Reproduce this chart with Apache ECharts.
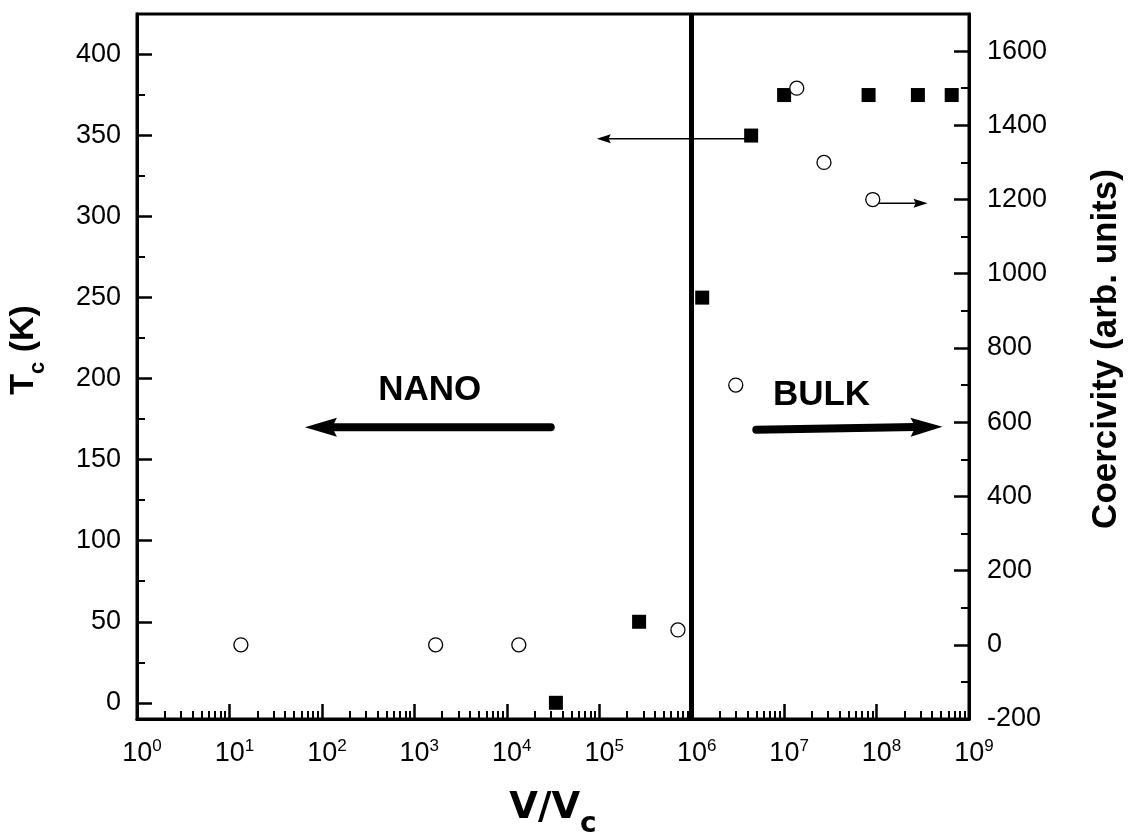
<!DOCTYPE html>
<html>
<head>
<meta charset="utf-8">
<script src="https://cdn.jsdelivr.net/npm/echarts@6/dist/echarts.min.js"></script>
<style>
html,body{margin:0;padding:0;background:#fff;}
#chart{width:1128px;height:840px;}
</style>
</head>
<body>
<div id="chart"></div>
<script>
// ---- data ----
const tcX = [3.4e4, 2.7e5, 1.3e6, 4.4e6, 1.0e7, 8.2e7, 2.8e8, 6.5e8];
const tcY = [0, 50, 250, 350, 375, 375, 375, 375];
const coX = [13.3, 1.7e3, 1.35e4, 7.1e5, 3.0e6, 1.37e7, 2.7e7, 9.1e7];
const coY = [0, 0, 0, 40, 700, 1500, 1300, 1200];
const boundaryX = 1e6;

// ---- axes / ticks ----
const xRange = [1, 1e9];
const tcRange = [-10, 425];
const coRange = [-200, 1700];
const xTickValues = [1, 10, 100, 1e3, 1e4, 1e5, 1e6, 1e7, 1e8, 1e9];
const xMinorTicks = [];
for (let d = 0; d < 9; d++) { for (let m = 2; m <= 9; m++) { xMinorTicks.push(m * Math.pow(10, d)); } }
const tcTicks = [0, 50, 100, 150, 200, 250, 300, 350, 400];
const tcMinorTicks = [25, 75, 125, 175, 225, 275, 325, 375];
const coTicks = [-200, 0, 200, 400, 600, 800, 1000, 1200, 1400, 1600];
const coMinorTicks = [-100, 100, 300, 500, 700, 900, 1100, 1300, 1500];

// ---- annotations (data units): [xTail, yTail, xTip, yTip, lineWidth, headLength, headWidth] ----
const tcAxisArrows = [
  [4.4e6, 348, 9.4e4, 348, 1.6, 14, 9],
  [2.99e4, 170, 65.5, 170, 8, 32, 19],
  [5.0e6, 168.5, 5.17e8, 170.4, 8, 32, 19]
];
const coAxisArrows = [
  [9.1e7, 1190, 3.56e8, 1190, 1.6, 14, 9]
];
const nanoLabel = [1.47e3, 192.6];
const bulkLabel = [2.54e7, 190];

const FONT = '"Liberation Sans", Arial, sans-serif';
const chart = echarts.init(document.getElementById('chart'), null, {renderer: 'canvas'});

function arrowRender(params, api) {
  const p1 = api.coord([api.value(0), api.value(1)]);
  const p2 = api.coord([api.value(2), api.value(3)]);
  const lw = api.value(4), hl = api.value(5), hw = api.value(6);
  const dx = p2[0] - p1[0], dy = p2[1] - p1[1];
  const len = Math.sqrt(dx * dx + dy * dy);
  const ux = dx / len, uy = dy / len;
  const px = -uy, py = ux;
  const bx = p2[0] - ux * hl, by = p2[1] - uy * hl;
  const nx = p2[0] - ux * hl * 0.85, ny = p2[1] - uy * hl * 0.85;
  return {
    type: 'group',
    children: [
      {type: 'line', shape: {x1: p1[0], y1: p1[1], x2: nx, y2: ny},
       style: {stroke: '#000', lineWidth: lw, lineCap: lw > 3 ? 'round' : 'butt'}},
      {type: 'polygon', shape: {points: [
        [p2[0], p2[1]], [bx + px * hw / 2, by + py * hw / 2], [nx, ny], [bx - px * hw / 2, by - py * hw / 2]
      ]}, style: {fill: '#000'}}
    ]
  };
}

const baseY = {
  type: 'value', gridIndex: 0, splitLine: {show: false},
  axisLine: {show: true, onZero: false, lineStyle: {color: '#000', width: 3}},
};

const option = {
  animation: false,
  backgroundColor: '#fff',
  grid: {left: 137, right: 159, top: 14, bottom: 121, containLabel: false, outerBoundsMode: 'none',
         show: true, borderColor: '#000', borderWidth: 3, backgroundColor: 'transparent'},
  xAxis: [
    {
      type: 'log', logBase: 10, min: xRange[0], max: xRange[1], position: 'bottom',
      splitLine: {show: false},
      axisLine: {show: true, onZero: false, lineStyle: {color: '#000', width: 3}},
      axisTick: {show: true, inside: true, length: 15, lineStyle: {color: '#000', width: 2.5}, customValues: xTickValues},
      axisLabel: {
        show: true, margin: 19, customValues: xTickValues,
        formatter: function (v) { return '{b|10}{s|' + Math.round(Math.log10(v)) + '}'; },
        rich: {
          b: {fontSize: 27, fontFamily: FONT, color: '#000', verticalAlign: 'bottom', padding: [0, 0, 0, 10]},
          s: {fontSize: 17, fontFamily: FONT, color: '#000', verticalAlign: 'bottom', padding: [0, 0, 12, 0]}
        }
      }
    },
    {
      type: 'log', logBase: 10, min: xRange[0], max: xRange[1], position: 'bottom',
      splitLine: {show: false}, axisLine: {show: false, onZero: false},
      axisTick: {show: true, inside: true, length: 8, lineStyle: {color: '#000', width: 2}, customValues: xMinorTicks},
      axisLabel: {show: false}
    }
  ],
  yAxis: [
    Object.assign({}, baseY, {
      min: tcRange[0], max: tcRange[1], position: 'left',
      axisTick: {show: true, inside: true, length: 15, lineStyle: {color: '#000', width: 2.5}, customValues: tcTicks},
      axisLabel: {show: true, margin: 16, customValues: tcTicks, fontSize: 27, fontFamily: FONT, color: '#000',
                  formatter: v => String(v)}
    }),
    Object.assign({}, baseY, {
      min: coRange[0], max: coRange[1], position: 'right',
      axisTick: {show: true, inside: true, length: 15, lineStyle: {color: '#000', width: 2.5}, customValues: coTicks},
      axisLabel: {show: true, margin: 18, customValues: coTicks, fontSize: 27, fontFamily: FONT, color: '#000',
                  formatter: v => String(v)}
    }),
    {
      type: 'value', min: tcRange[0], max: tcRange[1], position: 'left', splitLine: {show: false},
      axisLine: {show: false, onZero: false}, axisLabel: {show: false},
      axisTick: {show: true, inside: true, length: 8, lineStyle: {color: '#000', width: 2}, customValues: tcMinorTicks}
    },
    {
      type: 'value', min: coRange[0], max: coRange[1], position: 'right', splitLine: {show: false},
      axisLine: {show: false, onZero: false}, axisLabel: {show: false},
      axisTick: {show: true, inside: true, length: 8, lineStyle: {color: '#000', width: 2}, customValues: coMinorTicks}
    }
  ],
  series: [
    {
      name: 'Tc', type: 'scatter', xAxisIndex: 0, yAxisIndex: 0,
      data: tcX.map((x, i) => [x, tcY[i]]),
      symbol: 'rect', symbolSize: 14,
      itemStyle: {color: '#000', opacity: 1},
      emphasis: {disabled: true}, z: 3,
      markLine: {
        silent: true, animation: false, symbol: ['none', 'none'],
        label: {show: false},
        emphasis: {disabled: true},
        lineStyle: {color: '#000', width: 5, type: 'solid'},
        data: [{xAxis: boundaryX}]
      },
      markPoint: {
        silent: true, animation: false,
        symbol: 'rect', symbolSize: 1, itemStyle: {color: 'transparent'},
        label: {show: true, position: 'inside', formatter: '{b}', fontSize: 35, fontWeight: 'bold', fontFamily: FONT, color: '#000'},
        data: [
          {name: 'NANO', coord: nanoLabel},
          {name: 'BULK', coord: bulkLabel}
        ]
      }
    },
    {
      name: 'TcArrows', type: 'custom', xAxisIndex: 0, yAxisIndex: 0, silent: true, z: 2,
      renderItem: arrowRender, clip: false,
      encode: {x: [0, 2], y: [1, 3]},
      data: tcAxisArrows
    },
    {
      name: 'CoArrows', type: 'custom', xAxisIndex: 0, yAxisIndex: 1, silent: true, z: 2,
      renderItem: arrowRender, clip: false,
      encode: {x: [0, 2], y: [1, 3]},
      data: coAxisArrows
    },
    {
      name: 'Coercivity', type: 'scatter', xAxisIndex: 0, yAxisIndex: 1,
      data: coX.map((x, i) => [x, coY[i]]),
      symbol: 'circle', symbolSize: 14,
      itemStyle: {color: '#fff', borderColor: '#000', borderWidth: 1.3, opacity: 1},
      emphasis: {disabled: true}, z: 4
    }
  ],
  graphic: [
    {
      type: 'text', x: 28, y: 350, rotation: Math.PI / 2,
      style: {
        text: '{t|T}{s|c}{t| (K)}', align: 'center', verticalAlign: 'middle',
        rich: {
          t: {fontSize: 34, fontWeight: 'bold', fontFamily: FONT, fill: '#000', verticalAlign: 'bottom', padding: [0, 0, 8, 0]},
          s: {fontSize: 22, fontWeight: 'bold', fontFamily: FONT, fill: '#000', verticalAlign: 'bottom'}
        }
      }
    },
    {
      type: 'text', x: 1106, y: 349, rotation: Math.PI / 2,
      style: {
        text: 'Coercivity (arb. units)', align: 'center', verticalAlign: 'middle',
        fontSize: 35, fontWeight: 'bold', fontFamily: FONT, fill: '#000'
      }
    },
    {
      type: 'text', x: 553, y: 814,
      style: {
        text: '{a|V/V}{b|c}', align: 'center', verticalAlign: 'middle',
        rich: {
          a: {fontSize: 37, fontWeight: 'bold', fontFamily: '"DejaVu Sans", Verdana, sans-serif', fill: '#000', verticalAlign: 'bottom', padding: [0, 0, 12, 0]},
          b: {fontSize: 28, fontWeight: 'bold', fontFamily: '"DejaVu Sans", Verdana, sans-serif', fill: '#000', verticalAlign: 'bottom'}
        }
      }
    }
  ]
};
chart.setOption(option);
</script>
</body>
</html>
